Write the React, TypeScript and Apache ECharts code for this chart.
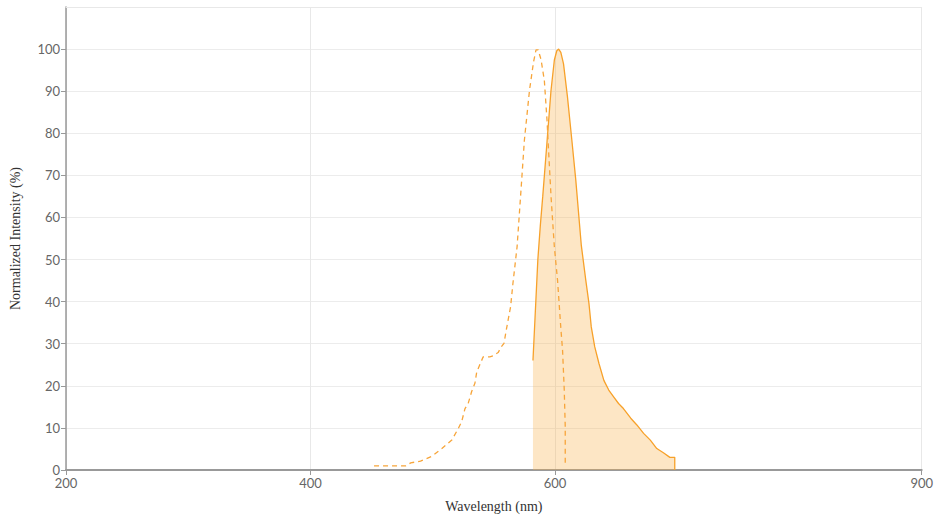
import React, { useEffect, useRef } from "react";
import * as echarts from "echarts";

// Emission spectrum (solid, filled)
const emWavelength = [582, 586, 588, 590, 593.5, 596.7, 599.5, 601.5, 603, 604.8, 607, 610.2, 613.8, 617, 621.5, 625.2, 627.8, 629.7, 632.5, 636, 640, 644, 648, 652, 656, 662, 667, 672.5, 678, 683.3, 688.7, 694, 698, 698];
const emIntensity = [26, 50, 58, 65, 78, 90, 97.4, 99.6, 100, 99.2, 96.5, 88.7, 78.4, 69, 53.5, 45.1, 39.6, 34, 29.3, 25.3, 21.3, 19, 17.4, 15.8, 14.6, 12.3, 10.7, 8.7, 7.1, 5.1, 4.1, 3, 3, 0];

// Excitation spectrum (dashed)
const exWavelength = [452, 478, 482, 490, 499.5, 507.5, 515.6, 521, 523.7, 526.4, 529, 531.8, 534.5, 536, 541.3, 546.7, 549.4, 553.5, 556.2, 558.3, 560.2, 563.7, 565.6, 569, 572.4, 575, 579.2, 582.5, 584.5, 586.3, 588.6, 591.3, 593.5, 594.6, 596.8, 599.5, 602.1, 604.9, 606.2, 607.6, 608.4, 608.4];
const exIntensity = [1, 1, 1.7, 2.1, 3.3, 5.1, 7.1, 9.9, 11.5, 14.6, 15.8, 18.6, 20.6, 23.3, 26.9, 26.9, 27.1, 27.9, 29.3, 30.1, 33.3, 38.8, 44.3, 53, 67.3, 78.4, 90.3, 97, 99.8, 99.8, 97.5, 92.6, 83.1, 76.8, 64.9, 53, 45.1, 33.3, 28.5, 19, 10.3, 0.8];

const xTicks = [200, 400, 600, 900];
const yTicks = [0, 10, 20, 30, 40, 50, 60, 70, 80, 90, 100];

const xName = "Wavelength (nm)";
const yName = "Normalized Intensity (%)";

export default function App() {
  const ref = useRef<HTMLDivElement>(null);
  useEffect(() => {
    if (!ref.current) return;
    const chart = echarts.init(ref.current, null, { renderer: "svg" });
    const em = emWavelength.map((w, i) => [w, emIntensity[i]]);
    const ex = exWavelength.map((w, i) => [w, exIntensity[i]]);
    const labelStyle = { color: "#666", fontFamily: "Lato, 'Open Sans', sans-serif", fontSize: 13 };
    chart.setOption({
      animation: false,
      grid: { left: 61, right: 14, top: 7, bottom: 50, containLabel: false },
      xAxis: [
        {
          type: "value",
          min: 200,
          max: 900,
          interval: 100,
          name: xName,
          nameLocation: "middle",
          nameGap: 29,
          nameTextStyle: { color: "#333", fontFamily: "'Liberation Serif', 'DejaVu Serif', serif", fontSize: 14 },
          axisLine: { show: true, lineStyle: { color: "#999", width: 2 } },
          axisTick: { show: true, length: 5, customValues: xTicks, lineStyle: { color: "#999" } },
          axisLabel: { ...labelStyle, margin: 6, customValues: xTicks },
          splitLine: { show: true, lineStyle: { color: "#e8e8e8", width: 1 } },
        },
        {
          type: "value",
          position: "top",
          min: 200,
          max: 900,
          axisLine: { show: true, onZero: false, lineStyle: { color: "#e8e8e8", width: 1 } },
          axisTick: { show: false },
          axisLabel: { show: false },
          splitLine: { show: false },
        },
      ],
      yAxis: {
        type: "value",
        min: 0,
        max: 110,
        interval: 10,
        name: yName,
        nameLocation: "middle",
        nameGap: 44,
        nameTextStyle: { color: "#333", fontFamily: "'Liberation Serif', 'DejaVu Serif', serif", fontSize: 14 },
        axisLine: { show: true, lineStyle: { color: "#999", width: 1.5 } },
        axisTick: { show: true, length: 5, customValues: yTicks, lineStyle: { color: "#999" } },
        axisLabel: { ...labelStyle, margin: 6, customValues: yTicks },
        splitLine: { show: true, lineStyle: { color: "#ececec", width: 1 } },
      },
      series: [
        {
          type: "line",
          name: "Emission",
          xAxisIndex: 0,
          data: em,
          showSymbol: false,
          smooth: false,
          lineStyle: { color: "#f7a12a", width: 1.3 },
          itemStyle: { color: "#f7a12a" },
          areaStyle: { color: "rgba(250,175,70,0.45)" },
          z: 2,
        },
        {
          type: "line",
          name: "Excitation",
          xAxisIndex: 0,
          data: ex,
          showSymbol: false,
          smooth: false,
          lineStyle: { color: "#f7a53a", width: 1.3, type: [5, 4] },
          itemStyle: { color: "#f7a53a" },
          z: 3,
        },
      ],
    });
    return () => chart.dispose();
  }, []);
  return <div ref={ref} style={{ width: 936, height: 520, position: "absolute", left: 0, top: 0 }} />;
}
